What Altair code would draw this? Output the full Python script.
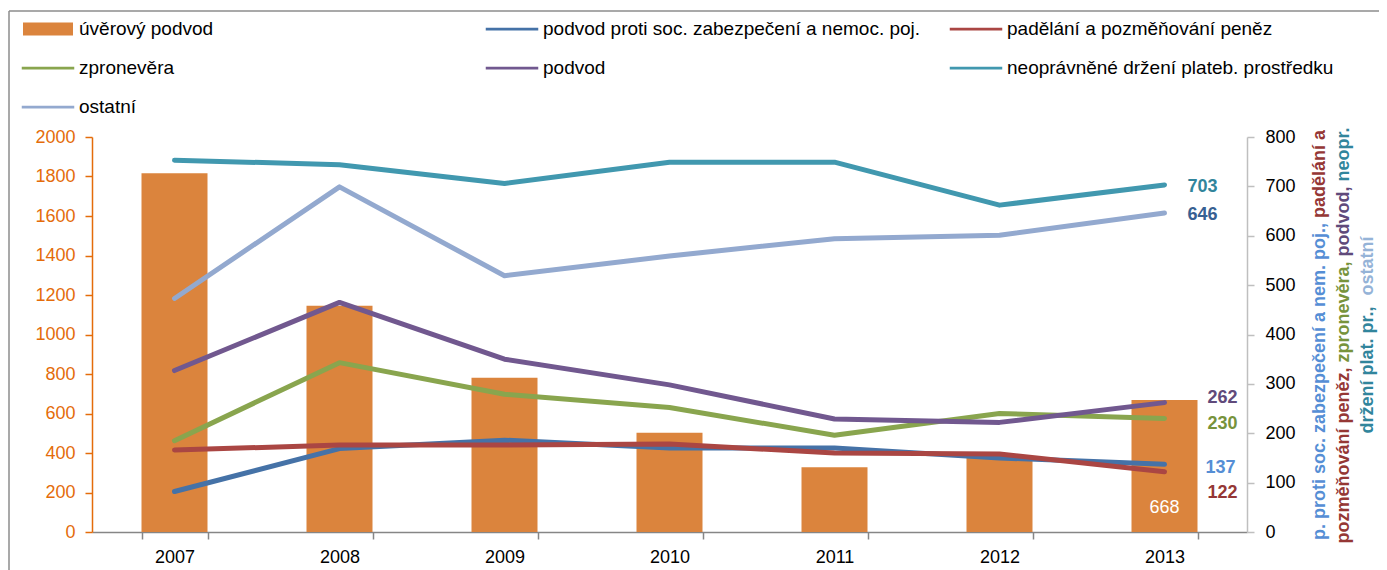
import unicodedata
import altair as alt
import pandas as pd

# ---------------- data ----------------
years = ["2007", "2008", "2009", "2010", "2011", "2012", "2013"]

bar_name = "úvěrový podvod"
bar_values = [1816, 1146, 781, 503, 328, 380, 668]

line_names = [
    "podvod proti soc. zabezpečení a nemoc. poj.",
    "padělání a pozměňování peněz",
    "zpronevěra",
    "podvod",
    "neoprávněné držení plateb. prostředku",
    "ostatní",
]
soc_values = [82, 169, 186, 170, 170, 150, 137]
padelani_values = [166, 176, 176, 178, 160, 158, 122]
zpronevera_values = [185, 343, 279, 252, 196, 240, 230]
podvod_values = [327, 465, 350, 298, 229, 222, 262]
neopr_values = [753, 744, 706, 749, 749, 662, 703]
ostatni_values = [473, 699, 519, 559, 594, 601, 646]
line_values = [soc_values, padelani_values, zpronevera_values,
               podvod_values, neopr_values, ostatni_values]

series_colors = ["#DB843D", "#4572A7", "#AA4643", "#89A54E", "#71588F", "#4198AF", "#93A9CF"]
end_label_colors = ["#558ED5", "#953735", "#77933C", "#604A7B", "#31859C", "#376092"]

axis_title_columns = [
    [("p. proti soc. zabezpečení a nem. poj., ", "#558ED5"), ("padělání a", "#953735")],
    [("pozměňování peněz, ", "#953735"), ("zpronevěra, ", "#77933C"),
     ("podvod, ", "#604A7B"), ("neopr.", "#31859C")],
    [("držení plat. pr.,  ", "#31859C"), ("ostatní", "#95B3D7")],
]

# ---------------- tables ----------------
df_bar = pd.DataFrame({"rok": years, "serie": bar_name, "hodnota": bar_values})
rows = []
for name, vals in zip(line_names, line_values):
    for yr, v in zip(years, vals):
        rows.append({"rok": yr, "serie": name, "hodnota": v})
df_lines = pd.DataFrame(rows)
all_names = [bar_name] + line_names
df_legend = pd.DataFrame({"polozka": all_names})

FONT = "Liberation Sans"
W, H = 1155, 395


def color_scale():
    return alt.Scale(domain=all_names, range=series_colors)


x_enc = alt.X(
    "rok:N",
    scale=alt.Scale(paddingInner=0.6, paddingOuter=0.3),
    axis=alt.Axis(title=None, labelAngle=0, labelFont=FONT, labelFontSize=18,
                  labelColor="black", domainColor="#868686", domainWidth=1.5,
                  tickColor="#868686", tickWidth=1.5, tickSize=7,
                  tickBand="extent", labelPadding=9),
)


def left_y(field, axis):
    return alt.Y(field, scale=alt.Scale(domain=[0, 2000], nice=False), axis=axis)


def right_y(field, axis):
    return alt.Y(field, scale=alt.Scale(domain=[0, 800], nice=False), axis=axis)


bars = alt.Chart(df_bar).mark_bar().encode(
    x=x_enc,
    y=left_y("hodnota:Q",
             alt.Axis(orient="left", values=list(range(0, 2001, 200)), title=None,
                      format="d", grid=False, labelColor="#E46C0A", labelFont=FONT,
                      labelFontSize=18, domainColor="#E46C0A", domainWidth=1.5,
                      tickColor="#E46C0A", tickWidth=1.5, tickSize=7,
                      labelPadding=10)),
    color=alt.Color("serie:N", scale=color_scale(), legend=None),
)

bar_label = alt.Chart(df_bar).transform_filter(
    alt.datum.rok == "2013"
).transform_calculate(base="0").mark_text(
    dy=-24, color="white", font=FONT, fontSize=18, baseline="middle"
).encode(
    x=x_enc,
    y=left_y("base:Q", None),
    text=alt.Text("hodnota:Q"),
)

lines = alt.Chart(df_lines).mark_line(
    strokeWidth=5, strokeCap="round", strokeJoin="round"
).encode(
    x=x_enc,
    y=right_y("hodnota:Q",
              alt.Axis(orient="right", values=list(range(0, 801, 100)), title=None,
                       format="d", grid=False, labelColor="black", labelFont=FONT,
                       labelFontSize=18, domainColor="#BFBFBF", domainWidth=1.5,
                       tickColor="#BFBFBF", tickWidth=1.5, tickSize=7,
                       labelPadding=11)),
    color=alt.Color("serie:N", scale=color_scale(), legend=None),
)

end_offsets = {  # dx, dy for the 2013 data labels
    line_names[0]: (41, 4),
    line_names[1]: (43, 21),
    line_names[2]: (43, 6),
    line_names[3]: (43, -5),
    line_names[4]: (23, 2),
    line_names[5]: (23, 2),
}
end_labels = []
for name, col in zip(line_names, end_label_colors):
    dx, dy = end_offsets[name]
    end_labels.append(
        alt.Chart(df_lines).transform_filter(
            (alt.datum.serie == name) & (alt.datum.rok == "2013")
        ).mark_text(align="left", baseline="middle", dx=dx, dy=dy, font=FONT,
                    fontSize=18, fontWeight="bold", color=col).encode(
            x=x_enc,
            y=right_y("hodnota:Q", None),
            text=alt.Text("hodnota:Q"),
        )
    )

legend_shapes = ["M-1,-0.26H1V0.26H-1Z"] + ["M-1.05,-0.055H1.05V0.055H-1.05Z"] * len(line_names)
leg = alt.Legend(title=None, orient="none", direction="horizontal",
                 legendX=-69, legendY=-133, columns=3,
                 gridAlign="all", columnPadding=28, rowPadding=4, padding=0,
                 symbolSize=2500, symbolStrokeWidth=0, symbolOpacity=1,
                 labelFont=FONT, labelFontSize=19, labelColor="black",
                 labelOffset=6, labelLimit=600, values=all_names)
legend_pts = alt.Chart(df_legend).mark_point(filled=True, opacity=0).encode(
    color=alt.Color("polozka:N", scale=color_scale(), legend=leg),
    shape=alt.Shape("polozka:N", scale=alt.Scale(domain=all_names, range=legend_shapes),
                    legend=leg),
)

# ---------------- right axis title (multi-coloured, rotated) ----------------
ARIAL_BOLD = {"a": 556, "b": 611, "c": 556, "d": 611, "e": 556, "j": 278, "l": 278,
              "m": 889, "n": 611, "o": 611, "p": 611, "r": 389, "s": 556, "t": 333,
              "v": 556, "z": 500, "i": 278, " ": 278, ".": 278, ",": 278}
TITLE_SIZE = 18


def text_width(s):
    return sum(ARIAL_BOLD.get(unicodedata.normalize("NFD", ch)[0], 556) for ch in s) * TITLE_SIZE / 1000


title_layers = []
col_x = [1228, 1252, 1276]
center_y = 198
for cx, segs in zip(col_x, axis_title_columns):
    total = sum(text_width(t) for t, _ in segs)
    y = center_y + total / 2
    for t, c in segs:
        title_layers.append(
            alt.Chart(alt.Data(values=[{"t": t.strip()}])).mark_text(
                angle=270, align="left", baseline="middle", font=FONT,
                fontSize=TITLE_SIZE, fontWeight="bold", color=c
            ).encode(x=alt.value(cx), y=alt.value(y), text="t:N")
        )
        y -= text_width(t)

# ---------------- frame ----------------
one = alt.Data(values=[{"k": 1}])
frame_left = alt.Chart(one).mark_rule(color="#8C8C8C", strokeWidth=1.5).encode(
    x=alt.value(-83), y=alt.value(-126), y2=alt.value(H + 60))
frame_top = alt.Chart(one).mark_rule(color="#8C8C8C", strokeWidth=1.5).encode(
    x=alt.value(-83), x2=alt.value(W + 200), y=alt.value(-126))

chart = alt.layer(
    bars, bar_label, lines, *end_labels, legend_pts, *title_layers, frame_left, frame_top
).resolve_scale(
    y="independent", color="independent", shape="independent"
).properties(
    width=W, height=H,
    autosize=alt.AutoSizeParams(type="none"),
    padding={"left": 84, "top": 129, "right": 132, "bottom": 38},
    background="white",
).configure_view(stroke=None)

chart.save("out.html", embed_options={"renderer": "svg", "actions": False})
